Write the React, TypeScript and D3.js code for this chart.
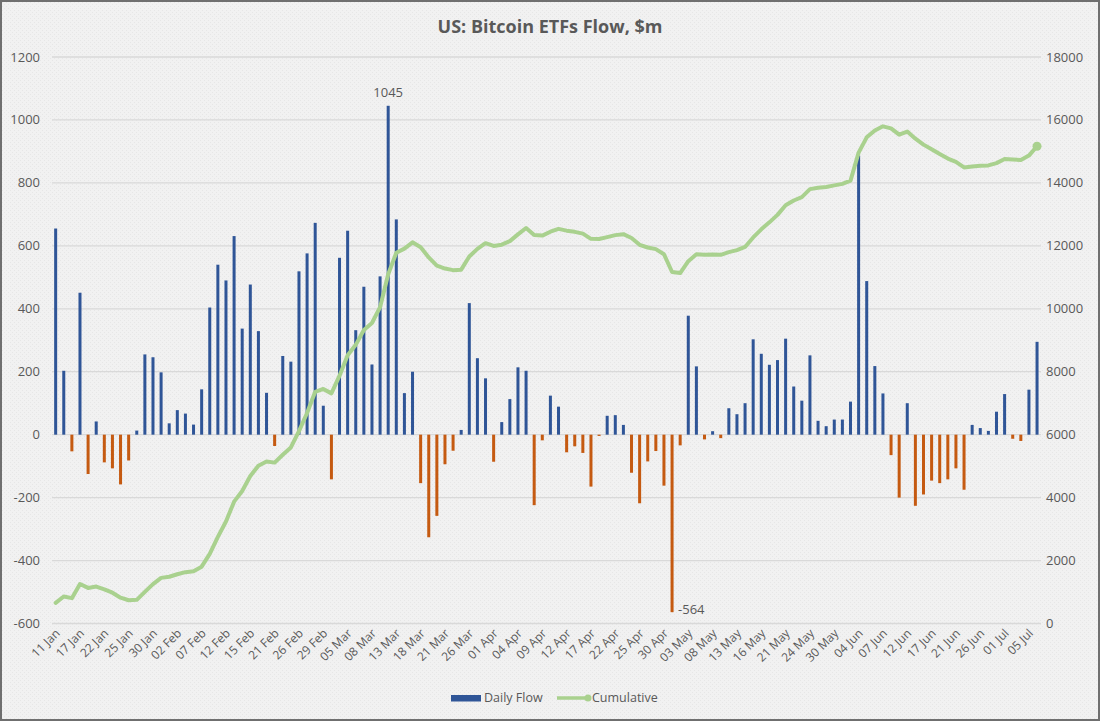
import React from "react";
import * as d3 from "d3";

const dates: string[] = [
  "11 Jan","12 Jan","16 Jan","17 Jan","18 Jan","19 Jan","22 Jan","23 Jan","24 Jan","25 Jan","26 Jan","29 Jan","30 Jan","31 Jan",
  "01 Feb","02 Feb","05 Feb","06 Feb","07 Feb","08 Feb","09 Feb","12 Feb","13 Feb","14 Feb","15 Feb","16 Feb","20 Feb","21 Feb","22 Feb","23 Feb","26 Feb","27 Feb","28 Feb","29 Feb",
  "01 Mar","04 Mar","05 Mar","06 Mar","07 Mar","08 Mar","11 Mar","12 Mar","13 Mar","14 Mar","15 Mar","18 Mar","19 Mar","20 Mar","21 Mar","22 Mar","25 Mar","26 Mar","27 Mar","28 Mar",
  "01 Apr","02 Apr","03 Apr","04 Apr","05 Apr","08 Apr","09 Apr","10 Apr","11 Apr","12 Apr","15 Apr","16 Apr","17 Apr","18 Apr","19 Apr","22 Apr","23 Apr","24 Apr","25 Apr","26 Apr","29 Apr","30 Apr",
  "01 May","02 May","03 May","06 May","07 May","08 May","09 May","10 May","13 May","14 May","15 May","16 May","17 May","20 May","21 May","22 May","23 May","24 May","28 May","29 May","30 May","31 May",
  "03 Jun","04 Jun","05 Jun","06 Jun","07 Jun","10 Jun","11 Jun","12 Jun","13 Jun","14 Jun","17 Jun","18 Jun","20 Jun","21 Jun","24 Jun","25 Jun","26 Jun","27 Jun","28 Jun",
  "01 Jul","02 Jul","03 Jul","05 Jul","08 Jul"
];

const dailyFlow: number[] = [
  655, 203, -53, 451, -125, 42, -88, -107, -158, -82, 13, 255, 246, 198,
  36, 78, 67, 32, 144, 404, 540, 490, 631, 337, 477, 329, 133, -36, 250, 232, 519, 576, 673, 92,
  -142, 562, 648, 332, 470, 223, 503, 1045, 684, 132, 200, -154, -326, -258, -94, -51, 15, 418, 243, 179,
  -86, 40, 113, 214, 203, -224, -18, 124, 89, -56, -37, -58, -165, -4, 60, 62, 31, -121, -218, -85, -52, -162,
  -564, -34, 378, 217, -15, 11, -11, 84, 65, 100, 303, 257, 222, 237, 305, 153, 108, 252, 44, 27, 48, 48,
  105, 887, 488, 218, 131, -65, -200, 100, -226, -190, -146, -154, -142, -107, -175, 31, 21, 12, 73,
  129, -13, -20, 143, 295
];

const cumulative: number[] = [
  655, 858, 805, 1256, 1131, 1173, 1085, 978, 820, 738, 751, 1006, 1252, 1450,
  1486, 1564, 1631, 1663, 1807, 2211, 2751, 3241, 3872, 4209, 4686, 5015, 5148, 5112, 5362, 5594, 6113, 6689, 7362, 7454,
  7312, 7874, 8522, 8854, 9324, 9547, 10050, 11095, 11779, 11911, 12111, 11957, 11631, 11373, 11279, 11228, 11243, 11661, 11904, 12083,
  11997, 12037, 12150, 12364, 12567, 12343, 12325, 12449, 12538, 12482, 12445, 12387, 12222, 12218, 12278, 12340, 12371, 12250, 12032, 11947, 11895, 11733,
  11169, 11135, 11513, 11730, 11715, 11726, 11715, 11799, 11864, 11964, 12267, 12524, 12746, 12983, 13288, 13441, 13549, 13801, 13845, 13872, 13920, 13968,
  14073, 14960, 15448, 15666, 15797, 15732, 15532, 15632, 15406, 15216, 15070, 14916, 14774, 14667, 14492, 14523, 14544, 14556, 14629,
  14758, 14745, 14725, 14868, 15163
];

const leftTicks: number[] = [-600, -400, -200, 0, 200, 400, 600, 800, 1000, 1200];
const rightTicks: number[] = [0, 2000, 4000, 6000, 8000, 10000, 12000, 14000, 16000, 18000];
const labelledDates: string[] = dates.filter((_, i) => i % 3 === 0 && i <= 120);
const annotated: string[] = ["12 Mar", "01 May"];

const W = 1100;
const H = 721;
const FONT = "'Open Sans', 'Liberation Sans', sans-serif";
const TXT = "#595959";
const BLUE = "#2F5597";
const ORANGE = "#C55A11";
const GREEN = "#A9D18E";

export default function App() {
  const x = d3
    .scaleBand<string>()
    .domain(dates)
    .range([51.6, 1041.1])
    .paddingInner(0.63)
    .paddingOuter(0.315);
  const yL = d3.scaleLinear().domain([-600, 1200]).range([623.5, 57]);
  const yR = d3.scaleLinear().domain([0, 18000]).range([623.5, 57]);
  const cx = (d: string) => (x(d) as number) + x.bandwidth() / 2;

  const line = d3
    .line<number>()
    .x((_, i) => cx(dates[i]))
    .y((v) => yR(v))
    .curve(d3.curveLinear);

  const lastI = dates.length - 1;

  return (
    <svg
      width={W}
      height={H}
      style={{ position: "absolute", left: 0, top: 0, display: "block" }}
      fontFamily={FONT}
    >
      <defs>
        <pattern id="dots" width="4" height="4" patternUnits="userSpaceOnUse">
          <rect width="4" height="4" fill="#f1f1f1" />
          <rect x="0" y="0" width="1" height="1" fill="#e6e6e6" />
          <rect x="2" y="2" width="1" height="1" fill="#e6e6e6" />
        </pattern>
      </defs>
      <rect x={0} y={0} width={W} height={H} fill="url(#dots)" />
      <rect x={1} y={1} width={W - 2} height={H - 2} fill="none" stroke="#6f6f6f" strokeWidth={2} />

      <text x={550} y={33} textAnchor="middle" fontSize={18} fontWeight={700} fill={TXT}>
        US: Bitcoin ETFs Flow, $m
      </text>

      {leftTicks.map((t) => (
        <line key={"g" + t} x1={52} x2={1041} y1={yL(t)} y2={yL(t)} stroke="#d9d9d9" strokeWidth={1.3} />
      ))}
      {leftTicks.map((t) => (
        <text key={"l" + t} x={40} y={yL(t)} dy="0.35em" textAnchor="end" fontSize={13} fill={TXT}>
          {t}
        </text>
      ))}
      {rightTicks.map((t) => (
        <text key={"r" + t} x={1046} y={yR(t)} dy="0.35em" textAnchor="start" fontSize={13} fill={TXT}>
          {t}
        </text>
      ))}

      {dates.map((d, i) => {
        const v = dailyFlow[i];
        const y0 = yL(0);
        const y1 = yL(v);
        return (
          <rect
            key={"b" + d}
            x={x(d)}
            width={x.bandwidth()}
            y={Math.min(y0, y1)}
            height={Math.max(0.8, Math.abs(y1 - y0))}
            fill={v >= 0 ? BLUE : ORANGE}
          />
        );
      })}

      <path d={line(cumulative) || ""} fill="none" stroke={GREEN} strokeWidth={4} strokeLinejoin="round" strokeLinecap="round" />
      <circle cx={cx(dates[lastI])} cy={yR(cumulative[lastI])} r={4.5} fill={GREEN} />

      {annotated.map((d) => {
        const i = dates.indexOf(d);
        const v = dailyFlow[i];
        return v >= 0 ? (
          <text key={"a" + d} x={cx(d)} y={yL(v) - 9} textAnchor="middle" fontSize={13} fill={TXT}>
            {v}
          </text>
        ) : (
          <text key={"a" + d} x={cx(d) + 6} y={yL(v) - 3} dy="0.35em" textAnchor="start" fontSize={13} fill={TXT}>
            {v}
          </text>
        );
      })}

      {labelledDates.map((d) => (
        <text
          key={"x" + d}
          transform={`translate(${cx(d) + 5},${634}) rotate(-45)`}
          textAnchor="end"
          fontSize={12}
          fill={TXT}
        >
          {d}
        </text>
      ))}

      <g>
        <rect x={451} y={695} width={30} height={6.5} fill={BLUE} />
        <text x={484} y={698} dy="0.35em" fontSize={12.5} fill={TXT}>
          Daily Flow
        </text>
        <line x1={557} x2={588} y1={698} y2={698} stroke={GREEN} strokeWidth={3.5} />
        <circle cx={588} cy={698} r={3.5} fill={GREEN} />
        <text x={592} y={698} dy="0.35em" fontSize={12.5} fill={TXT}>
          Cumulative
        </text>
      </g>
    </svg>
  );
}
